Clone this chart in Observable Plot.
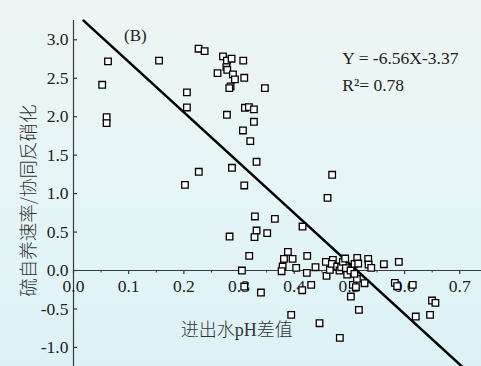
<!DOCTYPE html>
<html>
<head>
<meta charset="utf-8">
<script src="https://cdn.jsdelivr.net/npm/d3@7"></script>
<script src="https://cdn.jsdelivr.net/npm/@observablehq/plot@0.6"></script>
<style>
  html, body { margin: 0; padding: 0; }
  body { width: 481px; height: 366px; overflow: hidden; background: linear-gradient(to bottom, #edf5f4 0%, #e6f5f6 55%, #dcf2f6 100%); }
  svg { display: block; background: transparent !important; }
</style>
</head>
<body>
<div id="chart"></div>
<script>
// pH difference (x) and rate ratio (y)
const phDiff = [0.052,0.0625,0.060,0.060,0.155,0.2055,0.2055,0.202,0.2266,0.2376,0.227,0.2709,0.278,0.2864,0.3076,0.261,0.277,0.2786,0.2889,0.2925,0.3094,0.2847,0.2823,0.3468,0.278,0.3106,0.3178,0.3269,0.3269,0.307,0.3203,0.3317,0.2871,0.3094,0.3287,0.3649,0.3317,0.328,0.351,0.2828,0.415,0.4603,0.4687,0.3184,0.3051,0.3094,0.3396,0.3885,0.3813,0.397,0.3789,0.3771,0.4035,0.4235,0.4228,0.4385,0.4307,0.4144,0.3945,0.4458,0.4573,0.4585,0.4645,0.47,0.4681,0.4778,0.482,0.4826,0.485,0.4881,0.4923,0.4959,0.4935,0.502,0.5062,0.5026,0.5093,0.5141,0.5159,0.5135,0.5117,0.5171,0.5274,0.534,0.5346,0.5395,0.5624,0.5895,0.5823,0.5865,0.6147,0.6202,0.6461,0.6497,0.6558,0.509];
const rateRatio = [2.415,2.72,1.995,1.917,2.73,2.316,2.12,1.114,2.884,2.853,1.284,2.784,2.73,2.754,2.73,2.567,2.645,2.61,2.55,2.485,2.506,2.394,2.372,2.372,2.025,2.116,2.125,2.095,1.934,1.821,1.683,1.414,1.336,1.106,0.7025,0.672,0.52,0.434,0.486,0.442,0.572,0.945,1.245,0.191,0.0,-0.208,-0.286,0.243,0.152,0.152,0.052,-0.009,0.035,0.191,-0.03,0.043,-0.186,-0.256,-0.577,-0.685,0.113,-0.069,0.009,0.139,0.087,0.052,0.0,-0.876,0.043,0.113,0.156,-0.052,0.03,0.0,-0.186,-0.338,0.087,0.165,0.091,-0.108,-0.217,-0.512,-0.165,0.152,0.078,0.035,0.082,0.113,-0.16,-0.204,-0.186,-0.598,-0.577,-0.39,-0.421,-0.043];
const xTicks = [0.0,0.1,0.2,0.3,0.4,0.5,0.6,0.7];
const xMinor = [0.05,0.15,0.25,0.35,0.45,0.55,0.65];
const yTicks = [-1.0,-0.5,0.0,0.5,1.0,1.5,2.0,2.5,3.0];
const fitSlope = -6.56, fitIntercept = 3.37;
const eqText = "Y = -6.56X-3.37";
const r2Text = "R\u00b2= 0.78";
const panelLabel = "(B)";
const yTitle = "硫自养速率/协同反硝化";
const xTitle = "进出水pH差值";

const points = phDiff.map((x, i) => ({x, y: rateRatio[i]}));
const yTop = 3.25, yBottom = -1.3;
const fitLine = [yTop, yBottom].map(y => ({x: (y - fitIntercept) / fitSlope, y}));

const serif = "'Liberation Serif', 'Times New Roman', serif";
const axisColor = "#3a3a3a";

const chart = Plot.plot({
  width: 481,
  height: 366,
  marginLeft: 73,
  marginRight: 0,
  marginTop: 0,
  marginBottom: 0,
  style: {background: "transparent", overflow: "visible"},
  x: {domain: [0, 0.7393], axis: null},
  y: {domain: [-1.248, 3.511], axis: null},
  marks: [
    // axes lines
    Plot.ruleY([0], {stroke: axisColor, strokeWidth: 1.2}),
    Plot.ruleX([0], {y1: -1.248, y2: yTop, stroke: axisColor, strokeWidth: 1.2}),
    // y ticks (inward)
    Plot.ruleY(yTicks, {y: d => d, x1: 0, x2: 0, insetRight: -4, stroke: axisColor, strokeWidth: 1.2}),
    // x ticks (down)
    Plot.ruleX(xTicks, {x: d => d, y1: 0, y2: 0, insetBottom: -4, stroke: axisColor, strokeWidth: 1.2}),
    Plot.ruleX(xMinor, {x: d => d, y1: 0, y2: 0, insetBottom: -2.5, stroke: axisColor, strokeWidth: 1}),
    // tick labels
    Plot.text(yTicks, {x: 0, y: d => d, text: d => d.toFixed(1), textAnchor: "end", dx: -5, fontSize: 17.5, fontFamily: serif, fill: "#222"}),
    Plot.text(xTicks, {x: d => d, y: 0, text: d => d.toFixed(1), textAnchor: "middle", lineAnchor: "middle", dy: 15.5, fontSize: 17.5, fontFamily: serif, fill: "#222"}),
    // fit line
    Plot.line(fitLine, {x: "x", y: "y", stroke: "#000", strokeWidth: 2.5, clip: true}),
    // points
    Plot.dot(points, {x: "x", y: "y", symbol: "square", r: 3.7, fill: "#fff", stroke: "#000", strokeWidth: 1.3}),
    // annotations
    Plot.text([panelLabel], {x: 0.112, y: 3.056, text: d => d, fontSize: 17, fontFamily: serif, fill: "#222"}),
    Plot.text([eqText], {x: 0.487, y: 2.757, text: d => d, textAnchor: "start", fontSize: 17.5, fontFamily: serif, fill: "#222"}),
    Plot.text([r2Text], {x: 0.487, y: 2.406, text: d => d, textAnchor: "start", fontSize: 17.5, fontFamily: serif, fill: "#222"}),
    Plot.text([xTitle], {x: 0.296, y: -0.78, text: d => d, textAnchor: "middle", fontSize: 18, fontWeight: 300, fontFamily: "'Liberation Serif', 'Noto Sans CJK SC', serif", fill: "#333"}),
    Plot.text([yTitle], {x: 0, y: 0.91, dx: -44, text: d => d, rotate: -90, textAnchor: "middle", fontSize: 18.5, fontWeight: 300, fontFamily: "'Noto Sans CJK SC', sans-serif", fill: "#333"})
  ]
});
document.getElementById("chart").appendChild(chart);
</script>
</body>
</html>
